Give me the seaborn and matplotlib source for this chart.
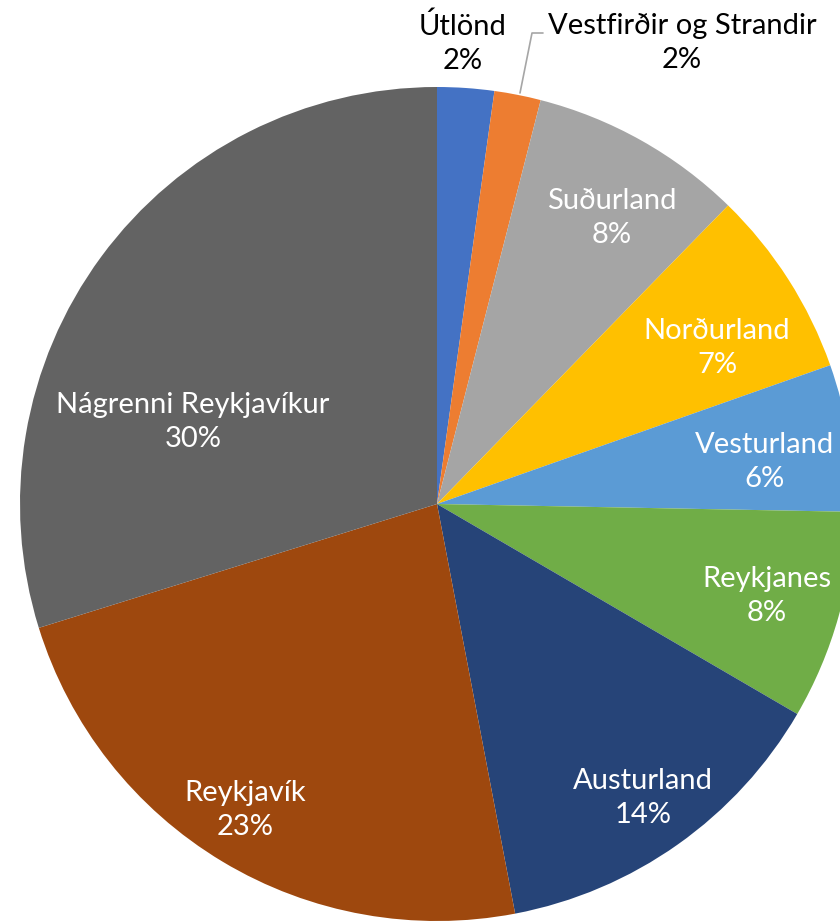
import numpy as np
import matplotlib.pyplot as plt
import seaborn as sns

# Data
regions = ["Útlönd", "Vestfirðir og Strandir", "Suðurland", "Norðurland",
           "Vesturland", "Reykjanes", "Austurland", "Reykjavík",
           "Nágrenni Reykjavíkur"]
shares = [2.2, 1.8, 8.3, 7.3, 5.7, 8.1, 13.6, 23.2, 29.8]
colors = ["#4472C4", "#ED7D31", "#A5A5A5", "#FFC000", "#5B9BD5",
          "#70AD47", "#264478", "#9E480E", "#636363"]
# label centres in pixel coords (x, y from top)
label_pos = [(463, 43), (682, 43), (612, 218), (717, 348), (765, 462),
             (767, 596), (643, 798), (245, 810), (193, 422)]
label_color = ["black", "black"] + ["white"] * 7

sns.set_theme(style="white")
plt.rcParams["font.family"] = ["Lato", "DejaVu Sans"]

W, H = 840, 922
fig = plt.figure(figsize=(W / 100, H / 100), dpi=100)
ax = fig.add_axes([0, 0, 1, 1])

ax.pie(shares, colors=colors, startangle=90, counterclock=False,
       center=(437, H - 504), radius=417, frame=True,
       wedgeprops=dict(linewidth=0))

pct = np.round(np.array(shares) / sum(shares) * 100).astype(int)
for name, p, (x, y), c in zip(regions, pct, label_pos, label_color):
    ax.text(x, H - y, f"{name}\n{p}%", ha="center", va="center",
            color=c, fontsize=21, linespacing=1.38)

# leader line for Vestfirðir og Strandir
ax.plot([520, 532, 543], [H - 93, H - 33, H - 33], color="#A6A6A6", lw=1.2)

ax.set_xlim(0, W)
ax.set_ylim(0, H)
ax.set_aspect("equal")
ax.axis("off")

fig.savefig("out.png", dpi=100)
